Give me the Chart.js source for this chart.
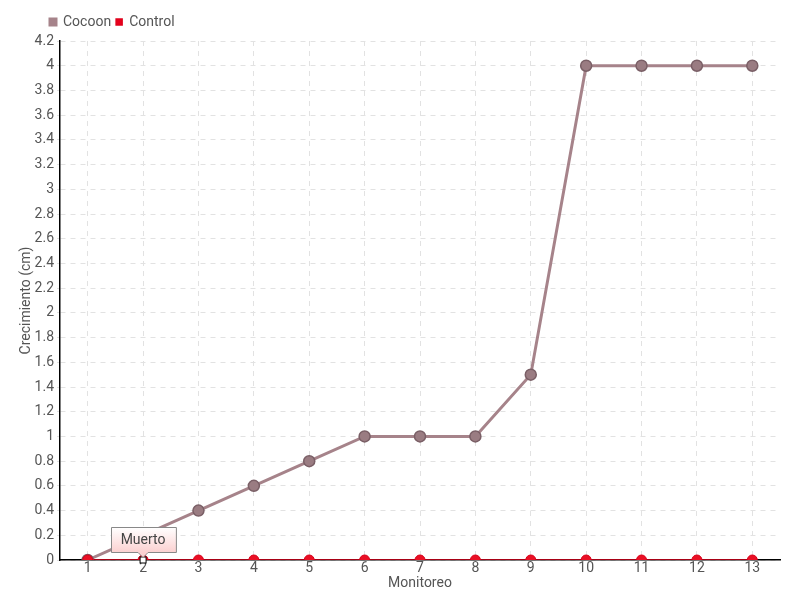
<!DOCTYPE html>
<html>
<head>
<meta charset="utf-8">
<script src="https://cdn.jsdelivr.net/npm/chart.js@4"></script>
<style>
  html, body { margin: 0; padding: 0; background: #fff; }
  #wrap { width: 800px; height: 600px; }
</style>
</head>
<body>
<div id="wrap"><canvas id="growthChart" width="800" height="600"></canvas></div>
<script>
const monitoreo = ["1", "2", "3", "4", "5", "6", "7", "8", "9", "10", "11", "12", "13"];
const cocoon = [0, 0.2, 0.4, 0.6, 0.8, 1, 1, 1, 1.5, 4, 4, 4, 4];
const control = [0, 0, 0, 0, 0, 0, 0, 0, 0, 0, 0, 0, 0];
const noteIndex = 1;
const noteText = "Muerto";

const FONT = "Roboto, 'DejaVu Sans', sans-serif";
const TEXT = "#555555";

// -- tooltip-like note on the Control series
const notePlugin = {
    id: "note",
    afterLayout(chart) {
        // legend sits a bit to the right in the original
        chart.legend.left += 27;
        chart.legend.right += 27;
        chart.legend.top -= 2;
        chart.legend.bottom -= 2;
    },
    afterDatasetsDraw(chart) {
        const pt = chart.getDatasetMeta(1).data[noteIndex];
        const ctx = chart.ctx;
        ctx.save();
        // highlighted point
        ctx.fillStyle = "#ffffff";
        ctx.strokeStyle = "#000000";
        ctx.lineWidth = 1;
        ctx.fillRect(pt.x - 3, pt.y - 3, 6, 6);
        ctx.strokeRect(pt.x - 3, pt.y - 3, 6, 6);
        // box
        ctx.font = "14px " + FONT;
        const w = ctx.measureText(noteText).width + 20;
        const h = 25;
        const bx = Math.round(pt.x - w / 2) + 0.5;
        const by = Math.round(pt.y - 8 - h) + 0.5;
        const grad = ctx.createLinearGradient(0, by, 0, by + h);
        grad.addColorStop(0, "#ffffff");
        grad.addColorStop(1, "#fbd0d0");
        ctx.beginPath();
        ctx.moveTo(bx, by);
        ctx.lineTo(bx + w, by);
        ctx.lineTo(bx + w, by + h);
        ctx.lineTo(pt.x + 5, by + h);
        ctx.lineTo(pt.x, by + h + 5);
        ctx.lineTo(pt.x - 5, by + h);
        ctx.lineTo(bx, by + h);
        ctx.closePath();
        ctx.fillStyle = grad;
        ctx.fill();
        ctx.strokeStyle = "#888888";
        ctx.stroke();
        ctx.fillStyle = "#444444";
        ctx.textAlign = "center";
        ctx.textBaseline = "middle";
        ctx.fillText(noteText, pt.x, by + h / 2);
        ctx.restore();
    }
};

const ctx = document.getElementById("growthChart").getContext("2d");
const chart = new Chart(ctx, {
    type: "line",
    data: {
        labels: monitoreo,
        datasets: [
            {
                label: "Cocoon",
                data: cocoon,
                order: 1,
                borderColor: "#a6838a",
                backgroundColor: "#a6838a",
                borderWidth: 3,
                pointRadius: 5.5,
                pointBackgroundColor: "#9a7c82",
                pointBorderColor: "#7a5f66",
                pointBorderWidth: 1.5,
                tension: 0
            },
            {
                label: "Control",
                data: control,
                order: 0,
                borderColor: "#e0001b",
                backgroundColor: "#e8001c",
                borderWidth: 1.5,
                pointRadius: 5,
                pointBackgroundColor: "#ea1025",
                pointBorderColor: "#d8001a",
                pointBorderWidth: 1,
                tension: 0
            }
        ]
    },
    options: {
        responsive: false,
        animation: false,
        layout: { padding: { top: 12, right: 20, left: 18, bottom: 10 } },
        plugins: {
            legend: {
                align: "start",
                labels: {
                    boxWidth: 6,
                    boxHeight: 6,
                    padding: 5,
                    color: TEXT,
                    font: { family: FONT, size: 14 },
                    sort: (a, b) => a.datasetIndex - b.datasetIndex
                }
            },
            tooltip: { enabled: false }
        },
        scales: {
            x: {
                offset: true,
                grid: { color: "#e2e2e2", offset: false, drawTicks: false },
                border: { color: "#000000", width: 1.5, dash: [5, 5] },
                ticks: { color: TEXT, padding: 1, font: { family: FONT, size: 14, lineHeight: 1 } },
                title: {
                    display: true,
                    text: "Monitoreo",
                    color: TEXT,
                    padding: 0,
                    font: { family: FONT, size: 14, lineHeight: 1 }
                }
            },
            y: {
                min: 0,
                max: 4.2,
                afterFit: scale => { scale.width = 42; },
                ticks: {
                    stepSize: 0.2,
                    color: TEXT,
                    padding: 3,
                    font: { family: FONT, size: 14 },
                    callback: v => String(Number(v.toFixed(1)))
                },
                grid: { color: "#e2e2e2", drawTicks: true, tickLength: 3 },
                border: { color: "#000000", width: 1.5, dash: [5, 5] },
                title: {
                    display: true,
                    text: "Crecimiento (cm)",
                    color: TEXT,
                    padding: 0,
                    font: { family: FONT, size: 14 }
                }
            }
        }
    },
    plugins: [notePlugin]
});
</script>
</body>
</html>
